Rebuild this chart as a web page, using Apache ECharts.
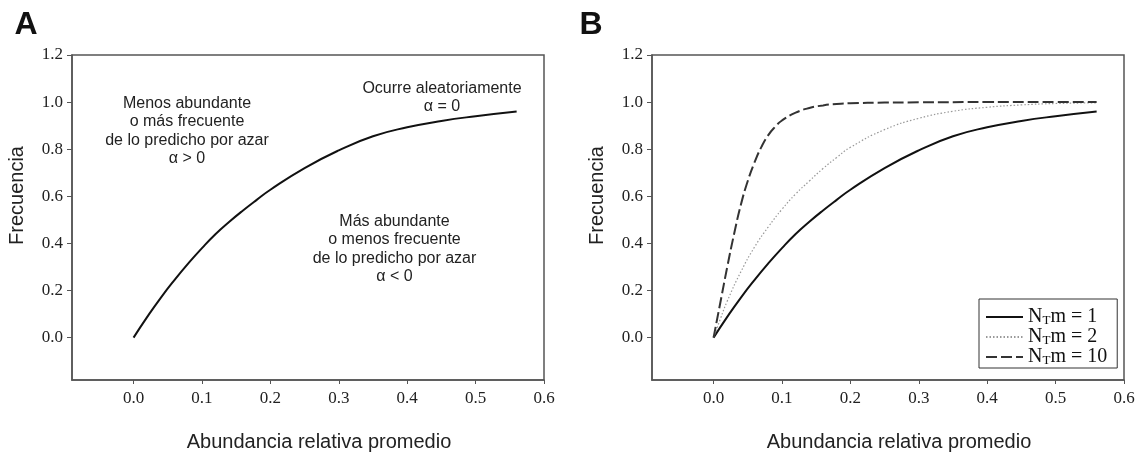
<!DOCTYPE html>
<html>
<head>
<meta charset="utf-8">
<script src="https://cdn.jsdelivr.net/npm/echarts@6/dist/echarts.min.js"></script>
<style>
  html, body { margin: 0; padding: 0; background: #fff; }
  #chart { width: 1139px; height: 452px; }
</style>
</head>
<body>
<div id="chart"></div>
<script>
// abundancia relativa promedio (x) -> frecuencia (y)
const xSolid = [0, 0.02, 0.04, 0.06, 0.08, 0.10, 0.12, 0.14, 0.16, 0.18, 0.20, 0.25, 0.30, 0.35, 0.40, 0.45, 0.50, 0.56]
const ySolid = [0, 0.088, 0.17, 0.245, 0.315, 0.38, 0.44, 0.492, 0.54, 0.585, 0.628, 0.72, 0.795, 0.855, 0.893, 0.92, 0.94, 0.96]

const xDotted = [0, 0.01, 0.02, 0.04, 0.06, 0.08, 0.10, 0.12, 0.14, 0.16, 0.18, 0.20, 0.25, 0.30, 0.35, 0.40, 0.45, 0.50, 0.56]
const yDotted = [0, 0.08, 0.155, 0.28, 0.385, 0.47, 0.545, 0.61, 0.665, 0.718, 0.765, 0.808, 0.883, 0.931, 0.961, 0.978, 0.988, 0.994, 0.997]

const xDashed = [0, 0.01, 0.02, 0.03, 0.04, 0.05, 0.06, 0.07, 0.08, 0.09, 0.10, 0.12, 0.14, 0.16, 0.18, 0.20, 0.25, 0.30, 0.40, 0.50, 0.56]
const yDashed = [0, 0.15, 0.30, 0.44, 0.565, 0.665, 0.745, 0.81, 0.86, 0.895, 0.922, 0.955, 0.975, 0.986, 0.992, 0.995, 0.998, 0.999, 1.0, 1.0, 1.0]

const nmValues = [1, 2, 10]

const xTicks = [0, 0.1, 0.2, 0.3, 0.4, 0.5, 0.6]
const yTicks = [0, 0.2, 0.4, 0.6, 0.8, 1.0, 1.2]

const SANS = '"Liberation Sans", Arial, sans-serif'
const SERIF = '"Liberation Serif", "Times New Roman", serif'
const BOX = '#555'

const pairs = (xs, ys) => xs.map((x, i) => [x, ys[i]])

function xAxis(gridIndex) {
  return {
    type: 'value',
    gridIndex,
    min: -0.09,
    max: 0.6,
    name: 'Abundancia relativa promedio',
    nameLocation: 'middle',
    nameGap: 52,
    nameTextStyle: { fontFamily: SANS, fontSize: 20, color: '#222', padding: [0, 0, 0, 22] },
    axisLine: { onZero: false, lineStyle: { color: BOX, width: 1.5 } },
    axisTick: { length: 4, customValues: xTicks, lineStyle: { color: BOX } },
    axisLabel: {
      customValues: xTicks,
      margin: 10,
      fontFamily: SERIF,
      fontSize: 17,
      color: '#222',
      formatter: v => v.toFixed(1)
    },
    splitLine: { show: false }
  }
}

function yAxis(gridIndex) {
  return {
    type: 'value',
    gridIndex,
    min: -0.18,
    max: 1.2,
    name: 'Frecuencia',
    nameLocation: 'middle',
    nameRotate: 90,
    nameGap: 45,
    nameTextStyle: { fontFamily: SANS, fontSize: 20, color: '#222', padding: [0, 0, 0, 44] },
    axisLine: { onZero: false, lineStyle: { color: BOX, width: 1.5 } },
    axisTick: { length: 5, customValues: yTicks, lineStyle: { color: BOX } },
    axisLabel: {
      customValues: yTicks,
      margin: 9,
      fontFamily: SERIF,
      fontSize: 17,
      color: '#222',
      formatter: v => v.toFixed(1)
    },
    splitLine: { show: false }
  }
}

const legendRich = {
  n: { fontFamily: SERIF, fontSize: 20, color: '#111', lineHeight: 20 },
  s: { fontFamily: SERIF, fontSize: 13, color: '#111', lineHeight: 6, verticalAlign: 'bottom' }
}

const seriesNames = nmValues.map(v => 'NTm = ' + v)

const lineSeries = (name, grid, xs, ys, lineStyle) => ({
  name,
  type: 'line',
  xAxisIndex: grid,
  yAxisIndex: grid,
  data: pairs(xs, ys),
  smooth: 0.5,
  symbol: 'none',
  itemStyle: { color: lineStyle.color },
  lineStyle
})

const chart = echarts.init(document.getElementById('chart'))
chart.setOption({
  animation: false,
  backgroundColor: '#fff',
  grid: [
    { left: 72, top: 55, width: 472, height: 325, outerBoundsMode: 'none', show: true, borderColor: BOX, borderWidth: 1.5 },
    { left: 652, top: 55, width: 472, height: 325, outerBoundsMode: 'none', show: true, borderColor: BOX, borderWidth: 1.5 }
  ],
  xAxis: [xAxis(0), xAxis(1)],
  yAxis: [yAxis(0), yAxis(1)],
  legend: {
    data: seriesNames,
    orient: 'vertical',
    left: 979,
    top: 299,
    padding: [8, 10, 1, 6],
    itemWidth: 37,
    itemHeight: 14,
    itemGap: 0,
    borderColor: '#333',
    borderWidth: 1,
    itemStyle: { opacity: 0 },
    formatter: name => '{n|N}{s|T}{n|' + name.slice(2) + '}',
    textStyle: { rich: legendRich }
  },
  graphic: [
    { type: 'text', x: 26, y: 25, style: { text: 'A', font: 'bold 32px ' + SANS, fill: '#111', align: 'center', verticalAlign: 'middle' } },
    { type: 'text', x: 591, y: 25, style: { text: 'B', font: 'bold 32px ' + SANS, fill: '#111', align: 'center', verticalAlign: 'middle' } },
    {
      type: 'text', x: 187, y: 131,
      style: {
        text: 'Menos abundante\no más frecuente\nde lo predicho por azar\nα > 0',
        fontFamily: SANS, fontSize: 16, lineHeight: 18.5, fill: '#222', align: 'center', verticalAlign: 'middle'
      }
    },
    {
      type: 'text', x: 442, y: 97.5,
      style: {
        text: 'Ocurre aleatoriamente\nα = 0',
        fontFamily: SANS, fontSize: 16, lineHeight: 18.5, fill: '#222', align: 'center', verticalAlign: 'middle'
      }
    },
    {
      type: 'text', x: 394.5, y: 249,
      style: {
        text: 'Más abundante\no menos frecuente\nde lo predicho por azar\nα < 0',
        fontFamily: SANS, fontSize: 16, lineHeight: 18.5, fill: '#222', align: 'center', verticalAlign: 'middle'
      }
    }
  ],
  series: [
    lineSeries('A', 0, xSolid, ySolid, { color: '#111', width: 2 }),
    lineSeries(seriesNames[0], 1, xSolid, ySolid, { color: '#111', width: 2 }),
    lineSeries(seriesNames[1], 1, xDotted, yDotted, { color: '#999', width: 1.2, type: [1.5, 2] }),
    lineSeries(seriesNames[2], 1, xDashed, yDashed, { color: '#333', width: 2, type: [11, 4] })
  ]
})
</script>
</body>
</html>
